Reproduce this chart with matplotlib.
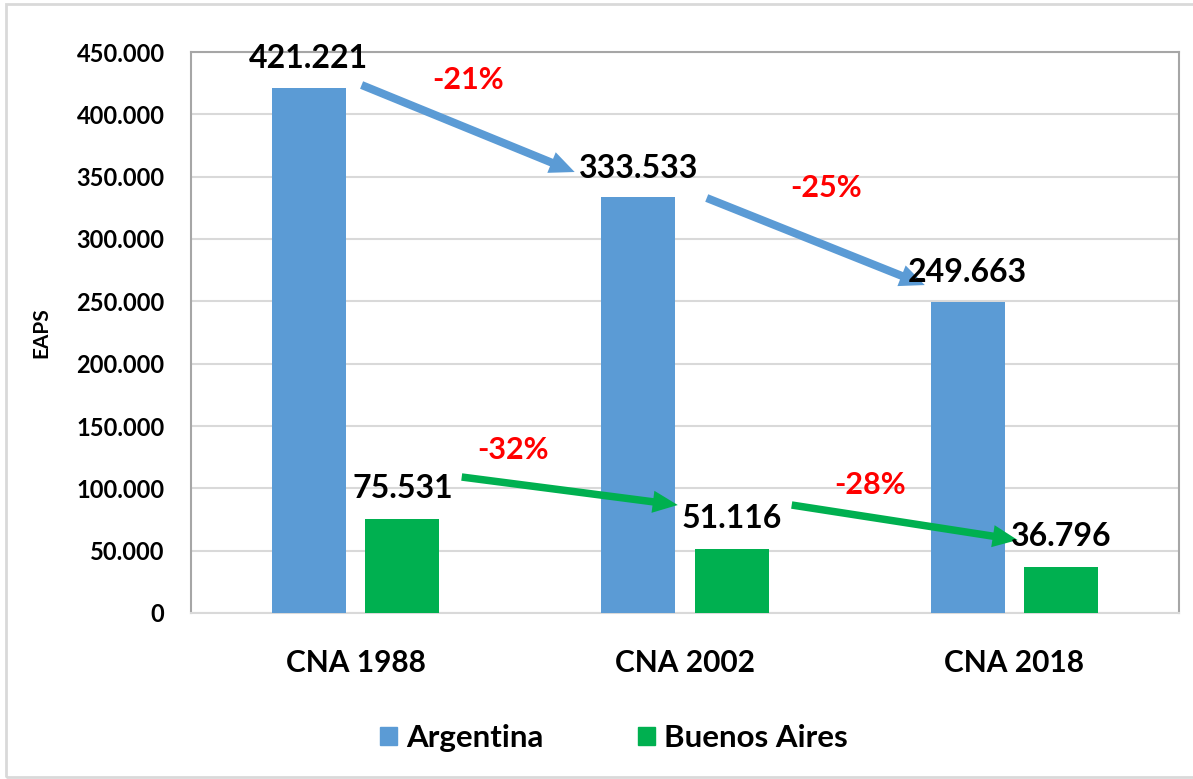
import matplotlib
matplotlib.use("Agg")
import matplotlib.pyplot as plt
from matplotlib.patches import Patch, FancyArrowPatch, Rectangle
import numpy as np

categories = ["CNA 1988", "CNA 2002", "CNA 2018"]
argentina = [421221, 333533, 249663]
buenos_aires = [75531, 51116, 36796]
series_names = ["Argentina", "Buenos Aires"]
pct_arg = ["-21%", "-25%"]
pct_ba = ["-32%", "-28%"]
yticks = [0, 50000, 100000, 150000, 200000, 250000, 300000, 350000, 400000, 450000]

BLUE = "#5B9BD5"
GREEN = "#00B050"
FONT = ["Lato", "DejaVu Sans"]
plt.rcParams["font.family"] = FONT

def fmt(v):
    return f"{v:,.0f}".replace(",", ".")

fig = plt.figure(figsize=(11.93, 7.79), dpi=100)
ax = fig.add_axes([191/1193, 1-613/779, (1179-191)/1193, (613-52)/779])

x = np.arange(len(categories))
off = 0.142
w = 0.225
ax.bar(x - off, argentina, w, color=BLUE, zorder=3)
ax.bar(x + off, buenos_aires, w, color=GREEN, zorder=3)

ax.set_xlim(-0.5, 2.5)
ax.set_ylim(0, 450000)
ax.set_yticks(yticks)
ax.set_yticklabels([fmt(v) for v in yticks], fontsize=17, fontweight="bold")
ax.set_xticks(x)
ax.set_xticklabels(categories, fontsize=21.5, fontweight="bold")
ax.tick_params(axis="both", length=0)
ax.tick_params(axis="x", pad=26)
ax.tick_params(axis="y", pad=19)
ax.grid(axis="y", color="#D9D9D9", lw=1.5, zorder=0)
for s in ["left", "top", "right"]:
    ax.spines[s].set_color("#A6A6A6")
    ax.spines[s].set_linewidth(1.5)
ax.spines["bottom"].set_color("#D9D9D9")
ax.spines["bottom"].set_linewidth(1.5)
ax.set_ylabel("EAPS", fontsize=15, fontweight="bold", labelpad=18)

# value labels
for i, v in enumerate(argentina):
    ax.annotate(fmt(v), (x[i] - off, v), xytext=(0, 21), textcoords="offset points",
                ha="center", va="center", fontsize=23, fontweight="bold", zorder=5)
for i, v in enumerate(buenos_aires):
    ax.annotate(fmt(v), (x[i] + off, v), xytext=(0, 22), textcoords="offset points",
                ha="center", va="center", fontsize=23, fontweight="bold", zorder=5)

# arrows (start offset x, start dy, end offset x, end dy)
arr_arg = [(0.018, 2300, -0.335, 20200), (0.066, -650, -0.272, 13400)]
arr_ba = [(0.322, 33550, -0.022, 35500), (0.324, 35500, 0.010, 21760)]
pct_pos_arg = [(0.340, 427500), (1.427, 340900)]
pct_pos_ba = [(0.477, 130700), (1.561, 102700)]

def arrow(x0, y0, x1, y1, color, tw):
    p = FancyArrowPatch((x0, y0), (x1, y1),
                        arrowstyle=f"simple,head_length=0.9,head_width=0.8,tail_width={tw}",
                        mutation_scale=20, color=color, lw=0, shrinkA=0, shrinkB=0, zorder=4)
    ax.add_patch(p)

for i in range(2):
    a = arr_arg[i]
    arrow(x[i] + a[0], argentina[i] + a[1], x[i+1] + a[2], argentina[i+1] + a[3], BLUE, 0.29)
    b = arr_ba[i]
    arrow(x[i] + b[0], buenos_aires[i] + b[1], x[i+1] + b[2], buenos_aires[i+1] + b[3], GREEN, 0.27)
    ax.text(*pct_pos_arg[i], pct_arg[i], color="#FF0000", fontsize=22, fontweight="bold",
            ha="center", va="center", zorder=5)
    ax.text(*pct_pos_ba[i], pct_ba[i], color="#FF0000", fontsize=22, fontweight="bold",
            ha="center", va="center", zorder=5)

handles = [Patch(color=BLUE), Patch(color=GREEN)]
fig.legend(handles, series_names, loc="center", bbox_to_anchor=(614/1193, 1-738/779),
           ncol=2, frameon=False, prop={"size": 22.5, "weight": "bold"},
           handlelength=0.55, handleheight=0.55, handletextpad=0.3, columnspacing=3.0)

fig.patches.append(Rectangle((6/1193, 1-777/779), 1190/1193, 773/779, transform=fig.transFigure,
                             fill=False, edgecolor="#D9D9D9", lw=2))

fig.savefig("out.png", dpi=100)
